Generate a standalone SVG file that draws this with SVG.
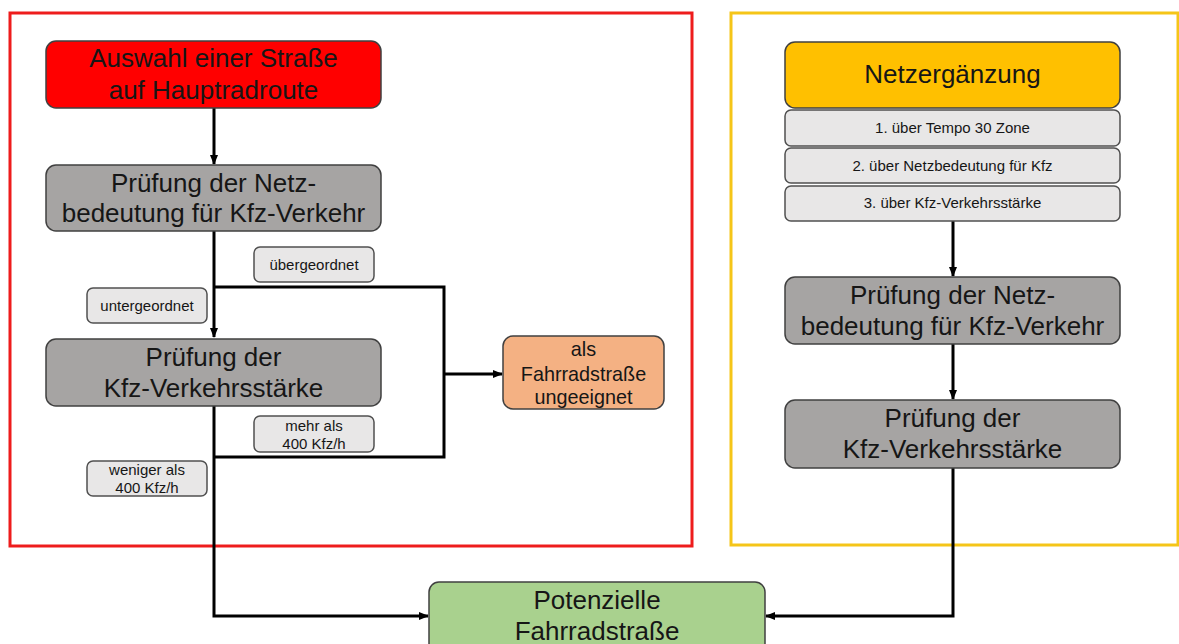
<svg xmlns="http://www.w3.org/2000/svg" width="1179" height="644" viewBox="0 0 1179 644">
<defs>
<style>
text{font-family:"Liberation Sans",Arial,sans-serif;fill:#161616;text-anchor:middle}
.big{font-size:26px}
.mid{font-size:19.8px}
.sm{font-size:15px}
.node{stroke:#404040;stroke-width:1.5}
.gray{fill:#a6a4a3}
.lab{fill:#e8e7e7;stroke:#505050;stroke-width:1.5}
.con{fill:none;stroke:#000;stroke-width:3}
</style>
<marker id="ah" markerWidth="10" markerHeight="10" viewBox="0 0 10 10" refX="9" refY="5" orient="auto" markerUnits="userSpaceOnUse">
<path d="M0,1 L10,5 L0,9 Z" fill="#000"/>
</marker>
</defs>
<rect width="1179" height="644" fill="#fff"/>
<g id="frames">
<rect x="10" y="13" width="682" height="533" fill="none" stroke="#ee1c1c" stroke-width="3"/>
<rect x="731" y="13" width="447" height="532" fill="none" stroke="#f5c518" stroke-width="3"/>
</g>
<g id="connectors">
<path class="con" d="M214,108 V164" marker-end="url(#ah)"/>
<path class="con" d="M214,231 V337" marker-end="url(#ah)"/>
<path class="con" d="M214,287 H444 V457 H214"/>
<path class="con" d="M444,374 H502" marker-end="url(#ah)"/>
<path class="con" d="M214,406 V616 H428" marker-end="url(#ah)"/>
<path class="con" d="M953,221 V276" marker-end="url(#ah)"/>
<path class="con" d="M953,344 V399" marker-end="url(#ah)"/>
<path class="con" d="M953,468 V616 H766" marker-end="url(#ah)"/>
</g>
<g id="n-auswahl">
<rect class="node" x="46" y="41" width="335" height="67" rx="10" fill="#ff0000"/>
<text class="big" x="213.5" y="67">Auswahl einer Straße</text>
<text class="big" x="213.5" y="99">auf Hauptradroute</text>
</g>
<g id="n-netz-left">
<rect class="node gray" x="46" y="165" width="335" height="66" rx="10"/>
<text class="big" x="213.5" y="192">Prüfung der Netz-</text>
<text class="big" x="213.5" y="222">bedeutung für Kfz-Verkehr</text>
</g>
<g id="l-ueber">
<rect class="lab" x="254" y="247" width="120" height="35" rx="6"/>
<text class="sm" x="314" y="270">übergeordnet</text>
</g>
<g id="l-unter">
<rect class="lab" x="87" y="288" width="120" height="35" rx="6"/>
<text class="sm" x="147" y="311">untergeordnet</text>
</g>
<g id="n-kfz-left">
<rect class="node gray" x="46" y="339" width="335" height="67" rx="10"/>
<text class="big" x="213.5" y="366">Prüfung der</text>
<text class="big" x="213.5" y="397">Kfz-Verkehrsstärke</text>
</g>
<g id="l-mehr">
<rect class="lab" x="254" y="416" width="120" height="36" rx="6"/>
<text class="sm" x="314" y="431">mehr als</text>
<text class="sm" x="314" y="449">400 Kfz/h</text>
</g>
<g id="l-weniger">
<rect class="lab" x="87" y="461" width="120" height="35" rx="6"/>
<text class="sm" x="147" y="475">weniger als</text>
<text class="sm" x="147" y="493">400 Kfz/h</text>
</g>
<g id="n-ungeeignet">
<rect class="node" x="503" y="336" width="161" height="73" rx="10" fill="#f4b183"/>
<text class="mid" x="583.5" y="356">als</text>
<text class="mid" x="583.5" y="381">Fahrradstraße</text>
<text class="mid" x="583.5" y="404">ungeeignet</text>
</g>
<g id="n-netzergaenzung">
<rect class="node" x="785" y="42" width="335" height="66" rx="10" fill="#ffc000"/>
<text class="big" x="952.5" y="83">Netzergänzung</text>
</g>
<g id="n-sub1">
<rect class="lab" x="785" y="110" width="335" height="36" rx="6"/>
<text class="sm" x="952.5" y="133">1. über Tempo 30 Zone</text>
</g>
<g id="n-sub2">
<rect class="lab" x="785" y="148" width="335" height="35" rx="6"/>
<text class="sm" x="952.5" y="171">2. über Netzbedeutung für Kfz</text>
</g>
<g id="n-sub3">
<rect class="lab" x="785" y="186" width="335" height="35" rx="6"/>
<text class="sm" x="952.5" y="208">3. über Kfz-Verkehrsstärke</text>
</g>
<g id="n-netz-right">
<rect class="node gray" x="785" y="277" width="335" height="67" rx="10"/>
<text class="big" x="952.5" y="304">Prüfung der Netz-</text>
<text class="big" x="952.5" y="335">bedeutung für Kfz-Verkehr</text>
</g>
<g id="n-kfz-right">
<rect class="node gray" x="785" y="400" width="335" height="68" rx="10"/>
<text class="big" x="952.5" y="427">Prüfung der</text>
<text class="big" x="952.5" y="458">Kfz-Verkehrsstärke</text>
</g>
<g id="n-potenzielle">
<rect class="node" x="429" y="582" width="336" height="72" rx="10" fill="#a9d18e"/>
<text class="big" x="597" y="609">Potenzielle</text>
<text class="big" x="597" y="640">Fahrradstraße</text>
</g>
</svg>
